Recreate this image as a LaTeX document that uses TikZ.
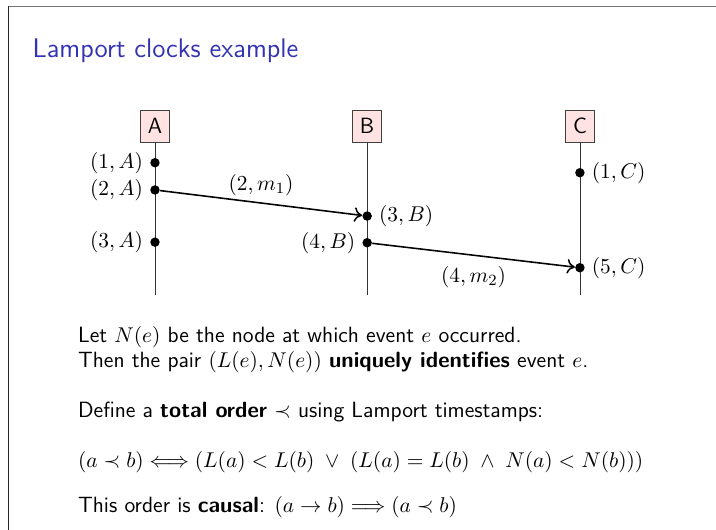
\documentclass[tikz,border=0pt]{standalone}
\usepackage{amsmath}
\usepackage{amssymb}
\usetikzlibrary{arrows.meta}
\definecolor{slidetitle}{rgb}{0.2,0.2,0.7}
\definecolor{procfill}{rgb}{1,0.89,0.89}

\begin{document}
\begin{tikzpicture}[font=\fontsize{11.3}{13.8}\selectfont\sffamily,
	proc/.style={draw=black!75, fill=procfill, thin, minimum width=0.53cm, minimum height=0.57cm, inner sep=0pt},
	ev/.style={circle, fill=black, inner sep=0pt, minimum size=0.17cm, label distance=1pt},
	msg/.style={thick, -{To[length=4pt, width=7.5pt]}},
	txt/.style={anchor=base west, inner sep=0pt}]
	\useasboundingbox (0,0) rectangle (12.89,9.54);
	% slide edges
	\draw[black!55, line width=0.7pt] (0.14,9.42) -- (12.89,9.42);
	\draw[black!85, line width=0.8pt] (0.15,0) -- (0.15,9.43);
	\node[txt, font=\fontsize{13.8}{16}\selectfont\sffamily, text=slidetitle] (title) at (0.58,8.5) {Lamport clocks example};
	% processes
	\node[proc] (A) at (2.79,7.27) {A};
	\node[proc] (B) at (6.61,7.27) {B};
	\node[proc] (C) at (10.44,7.27) {C};
	\coordinate (Aend) at (2.79,4.23);
	\coordinate (Bend) at (6.61,4.23);
	\coordinate (Cend) at (10.44,4.23);
	\draw[thin, black!80] (A) -- (Aend);
	\draw[thin, black!80] (B) -- (Bend);
	\draw[thin, black!80] (C) -- (Cend);
	% events
	\node[ev, label=left:{$(1,A)$}] (a1) at (2.79,6.61) {};
	\node[ev, label=left:{$(2,A)$}] (a2) at (2.79,6.12) {};
	\node[ev, label=left:{$(3,A)$}] (a3) at (2.79,5.18) {};
	\node[ev, label=right:{$(3,B)$}] (b3) at (6.61,5.65) {};
	\node[ev, label=left:{$(4,B)$}] (b4) at (6.61,5.17) {};
	\node[ev, label=right:{$(1,C)$}] (c1) at (10.44,6.43) {};
	\node[ev, label=right:{$(5,C)$}] (c5) at (10.44,4.72) {};
	% messages
	\draw[msg] (a2) -- node[midway, above] (m1) {$(2,m_1)$} (b3);
	\draw[msg] (b4) -- node[midway, below=2pt] (m2) {$(4,m_2)$} (c5);
	% text
	\node[txt] (l1) at (1.40,3.38) {Let $N(e)$ be the node at which event $e$ occurred.};
	\node[txt] (l2) at (1.40,2.92) {Then the pair $(L(e),N(e))$ \textbf{uniquely identifies} event $e$.};
	\node[txt] (l3) at (1.40,2.02) {Define a \textbf{total order} $\prec$ using Lamport timestamps:};
	\node[txt] (l4) at (1.40,1.12) {$(a \prec b) \Longleftrightarrow (L(a) < L(b) \;\vee\; (L(a) = L(b) \;\wedge\; N(a) < N(b)))$};
	\node[txt] (l5) at (1.40,0.31) {This order is \textbf{causal}: $(a \rightarrow b) \Longrightarrow (a \prec b)$};
\end{tikzpicture}
\end{document}
